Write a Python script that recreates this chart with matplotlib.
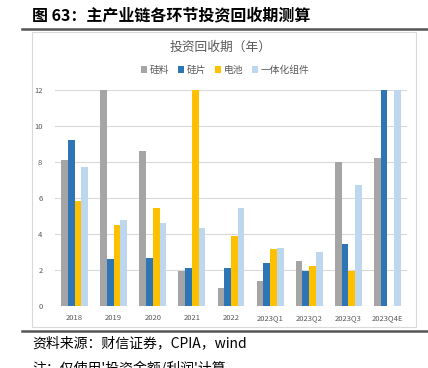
import numpy as np
import matplotlib
matplotlib.use("Agg")
import matplotlib.pyplot as plt
from matplotlib.patches import Rectangle
from matplotlib.lines import Line2D

plt.rcParams['font.family'] = ['Noto Sans CJK SC', 'DejaVu Sans']

categories = ["2018", "2019", "2020", "2021", "2022", "2023Q1", "2023Q2", "2023Q3", "2023Q4E"]
series_names = ["硅料", "硅片", "电池", "一体化组件"]
silicon = [8.1, 12.0, 8.6, 1.95, 1.0, 1.4, 2.5, 8.0, 8.2]
wafer = [9.25, 2.62, 2.65, 2.1, 2.1, 2.38, 1.93, 3.44, 12.0]
cell = [5.83, 4.48, 5.46, 12.0, 3.89, 3.17, 2.2, 1.94, 0.0]
module = [7.74, 4.78, 4.59, 4.35, 5.44, 3.22, 3.0, 6.7, 12.0]
yticks = [0, 2, 4, 6, 8, 10, 12]
colors = ["#A5A5A5", "#2E75B6", "#FFC000", "#BDD7EE"]

W, H = 428, 368
fig = plt.figure(figsize=(W / 100, H / 100), dpi=100)

# header
fig.text(32 / W, 1 - 15 / H, "图 63：主产业链各环节投资回收期测算", fontsize=11.5,
         fontweight='bold', color="black", ha='left', va='center')
fig.add_artist(Line2D([22 / W, 1], [1 - 29 / H, 1 - 29 / H], color="#555555", lw=1.8))
fig.add_artist(Line2D([22 / W, 1], [1 - 331 / H, 1 - 331 / H], color="#555555", lw=1.8))

# chart frame
fig.add_artist(Rectangle((32 / W, 1 - 327 / H), (416 - 32) / W, (327 - 32) / H,
                         transform=fig.transFigure, fill=False, edgecolor="#D9D9D9", lw=0.8))

fig.text(221 / W, 1 - 47 / H, "投资回收期（年）", fontsize=9.2, color="#595959",
         ha='center', va='center')

ax = fig.add_axes([55 / W, 1 - 306 / H, (407 - 55) / W, (306 - 90) / H])
data = [silicon, wafer, cell, module]
x = np.arange(len(categories))
bw = 0.172
handles = []
for i, (vals, c) in enumerate(zip(data, colors)):
    b = ax.bar(x + (i - 1.5) * bw, vals, width=bw, color=c, zorder=3, label=series_names[i])
    handles.append(b)

ax.set_xlim(-0.5, len(categories) - 0.5)
ax.set_ylim(0, 12)
ax.set_yticks(yticks)
ax.set_xticks(x)
ax.set_xticklabels(categories)
ax.tick_params(axis='both', length=0, labelsize=5.5, labelcolor="#595959")
ax.tick_params(axis='x', pad=6)
ax.tick_params(axis='y', pad=9)
ax.grid(axis='y', color="#D9D9D9", lw=0.8, zorder=0)
for s in ax.spines.values():
    s.set_visible(False)

fig.legend(handles, series_names, loc='center', bbox_to_anchor=(225 / W, 1 - 70 / H),
           ncol=4, frameon=False, fontsize=7, handlelength=0.6, handleheight=0.6,
           handletextpad=0.3, columnspacing=0.9, labelcolor="#595959")

fig.text(32 / W, 1 - 343 / H, "资料来源：财信证券，CPIA，wind", fontsize=10,
         style='italic', color="black", ha='left', va='center')
# the note line is cut off by the lower edge, as in the source picture
fig.text(32 / W, 1 - 368 / H, "注：仅使用'投资金额/利润'计算", fontsize=10,
         style='italic', color="black", ha='left', va='center')

fig.savefig("out.png", dpi=100)
